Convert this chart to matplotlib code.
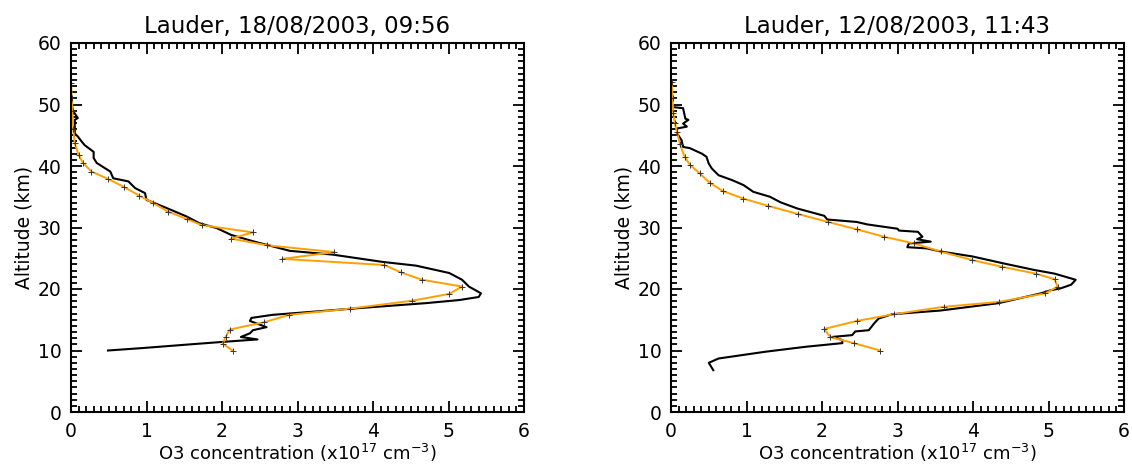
import numpy as np
import matplotlib
matplotlib.use("Agg")
import matplotlib.pyplot as plt
from matplotlib.ticker import MultipleLocator

# --- panel 1 : Lauder 18/08/2003 09:56 ---
titulo_1 = "Lauder, 18/08/2003, 09:56"
sonda_1_x = [0.01, 0.02, 0.09, 0.05, 0.05, 0.09, 0.14, 0.18, 0.30, 0.30, 0.34, 0.52,
             0.56, 0.76, 0.85, 0.98, 1.00, 1.26, 1.53, 1.70, 1.93, 2.12, 2.43, 2.90,
             3.46, 4.13, 4.57, 5.01, 5.18, 5.27, 5.43, 5.40, 5.14, 4.70, 3.82, 3.20,
             2.67, 2.39, 2.37, 2.59, 2.41, 2.37, 2.25, 2.47, 2.01, 1.58, 0.95, 0.49]
sonda_1_z = [50.5, 49.1, 47.8, 47.5, 45.3, 44.8, 44.0, 43.4, 42.3, 41.3, 40.5, 39.1,
             38.0, 37.5, 36.4, 35.6, 34.5, 33.2, 31.8, 30.7, 29.9, 28.8, 27.7, 26.2,
             25.6, 24.4, 23.8, 22.6, 21.5, 20.4, 19.3, 18.7, 18.2, 17.7, 16.9, 16.3,
             15.8, 15.3, 14.8, 13.8, 13.3, 12.8, 12.2, 11.8, 11.4, 11.0, 10.4, 10.0]
ret_1_x = [2.14, 2.01, 2.05, 2.10, 2.56, 2.89, 3.69, 4.52, 5.01, 5.18, 4.65, 4.37,
           4.15, 2.80, 3.49, 2.60, 2.12, 2.41, 1.73, 1.53, 1.28, 1.09, 0.90, 0.70,
           0.49, 0.27, 0.16, 0.10, 0.05, 0.03, 0.02, 0.01, 0.00]
ret_1_z = [10.0, 11.1, 12.2, 13.4, 14.6, 15.8, 16.8, 18.1, 19.2, 20.4, 21.5, 22.7,
           23.9, 24.9, 26.0, 27.1, 28.2, 29.2, 30.4, 31.4, 32.6, 34.0, 35.2, 36.6,
           37.9, 39.1, 40.5, 41.8, 43.7, 46.0, 49.0, 51.0, 53.5]

# --- panel 2 : Lauder 12/08/2003 11:43 ---
titulo_2 = "Lauder, 12/08/2003, 11:43"
sonda_2_x = [0.01, 0.16, 0.19, 0.23, 0.16, 0.21, 0.08, 0.08, 0.14, 0.16, 0.25, 0.41,
             0.47, 0.50, 0.54, 0.63, 0.81, 0.96, 1.09, 1.31, 1.45, 1.67, 2.03, 2.07,
             2.46, 2.60, 3.00, 3.02, 3.27, 3.33, 3.26, 3.44, 3.15, 3.13, 3.39, 3.57,
             3.99, 4.39, 4.81, 5.08, 5.36, 5.30, 5.16, 5.03, 4.90, 4.34, 3.57, 2.93,
             2.75, 2.69, 2.62, 2.44, 2.40, 2.13, 2.27, 2.27, 1.78, 1.25, 0.63, 0.50,
             0.56]
sonda_2_z = [49.6, 49.4, 47.7, 47.5, 46.9, 46.4, 46.1, 45.3, 44.2, 43.1, 42.9, 42.0,
             41.5, 40.4, 39.6, 38.5, 37.7, 36.9, 35.8, 35.0, 34.1, 33.1, 31.9, 31.3,
             30.9, 30.5, 29.8, 29.5, 29.3, 28.5, 28.1, 27.7, 27.4, 26.8, 26.6, 26.1,
             25.3, 24.2, 23.1, 22.5, 21.5, 20.7, 20.1, 19.8, 19.3, 17.7, 16.5, 15.9,
             15.2, 14.4, 13.3, 13.1, 12.5, 12.2, 11.7, 11.2, 10.6, 9.8, 8.7, 8.0,
             6.8]
ret_2_x = [2.77, 2.42, 2.11, 2.03, 2.46, 2.95, 3.61, 4.34, 4.96, 5.12, 5.08, 4.83,
           4.39, 3.99, 3.57, 3.22, 2.82, 2.46, 2.08, 1.68, 1.29, 0.96, 0.69, 0.51,
           0.38, 0.25, 0.18, 0.12, 0.08, 0.05, 0.03, 0.02, 0.01]
ret_2_z = [10.0, 11.2, 12.2, 13.5, 14.8, 15.9, 17.1, 17.9, 19.3, 20.4, 21.6, 22.5,
           23.6, 24.7, 26.1, 27.4, 28.5, 29.7, 30.9, 32.2, 33.5, 34.7, 35.9, 37.3,
           38.8, 40.2, 41.5, 43.5, 45.5, 47.0, 48.6, 51.0, 53.7]

paneles = [
    (titulo_1, sonda_1_x, sonda_1_z, ret_1_x, ret_1_z, 71),
    (titulo_2, sonda_2_x, sonda_2_z, ret_2_x, ret_2_z, 671),
]

W, H = 1132, 471
fig = plt.figure(figsize=(W / 100, H / 100), dpi=100)

for titulo, sx, sz, rx, rz, x0 in paneles:
    ax = fig.add_axes([x0 / W, (H - 412) / H, 453 / W, 369 / H])
    ax.plot(sx, sz, color="black", lw=1.5)
    ax.plot(rx, rz, color="#FFA000", lw=1.4)
    ax.plot(rx, rz, ls="none", marker="+", color="#333333", ms=5, mew=0.7)

    ax.set_xlim(0, 6)
    ax.set_ylim(0, 60)
    ax.xaxis.set_major_locator(MultipleLocator(1))
    ax.xaxis.set_minor_locator(MultipleLocator(0.1))
    ax.yaxis.set_major_locator(MultipleLocator(10))
    ax.yaxis.set_minor_locator(MultipleLocator(1))
    ax.tick_params(which="both", direction="in", top=True, right=True,
                   width=1.3, colors="black", labelsize=13.5)
    ax.tick_params(which="major", length=8, pad=7)
    ax.tick_params(which="minor", length=4)
    for s in ax.spines.values():
        s.set_linewidth(1.5)

    ax.set_title(titulo, fontsize=16.5, pad=7)
    ax.set_xlabel("O3 concentration (x10$^{17}$ cm$^{-3}$)", fontsize=13, labelpad=1)
    ax.set_ylabel("Altitude (km)", fontsize=13.5, labelpad=3)

plt.savefig("out.png", dpi=100)
plt.close()
